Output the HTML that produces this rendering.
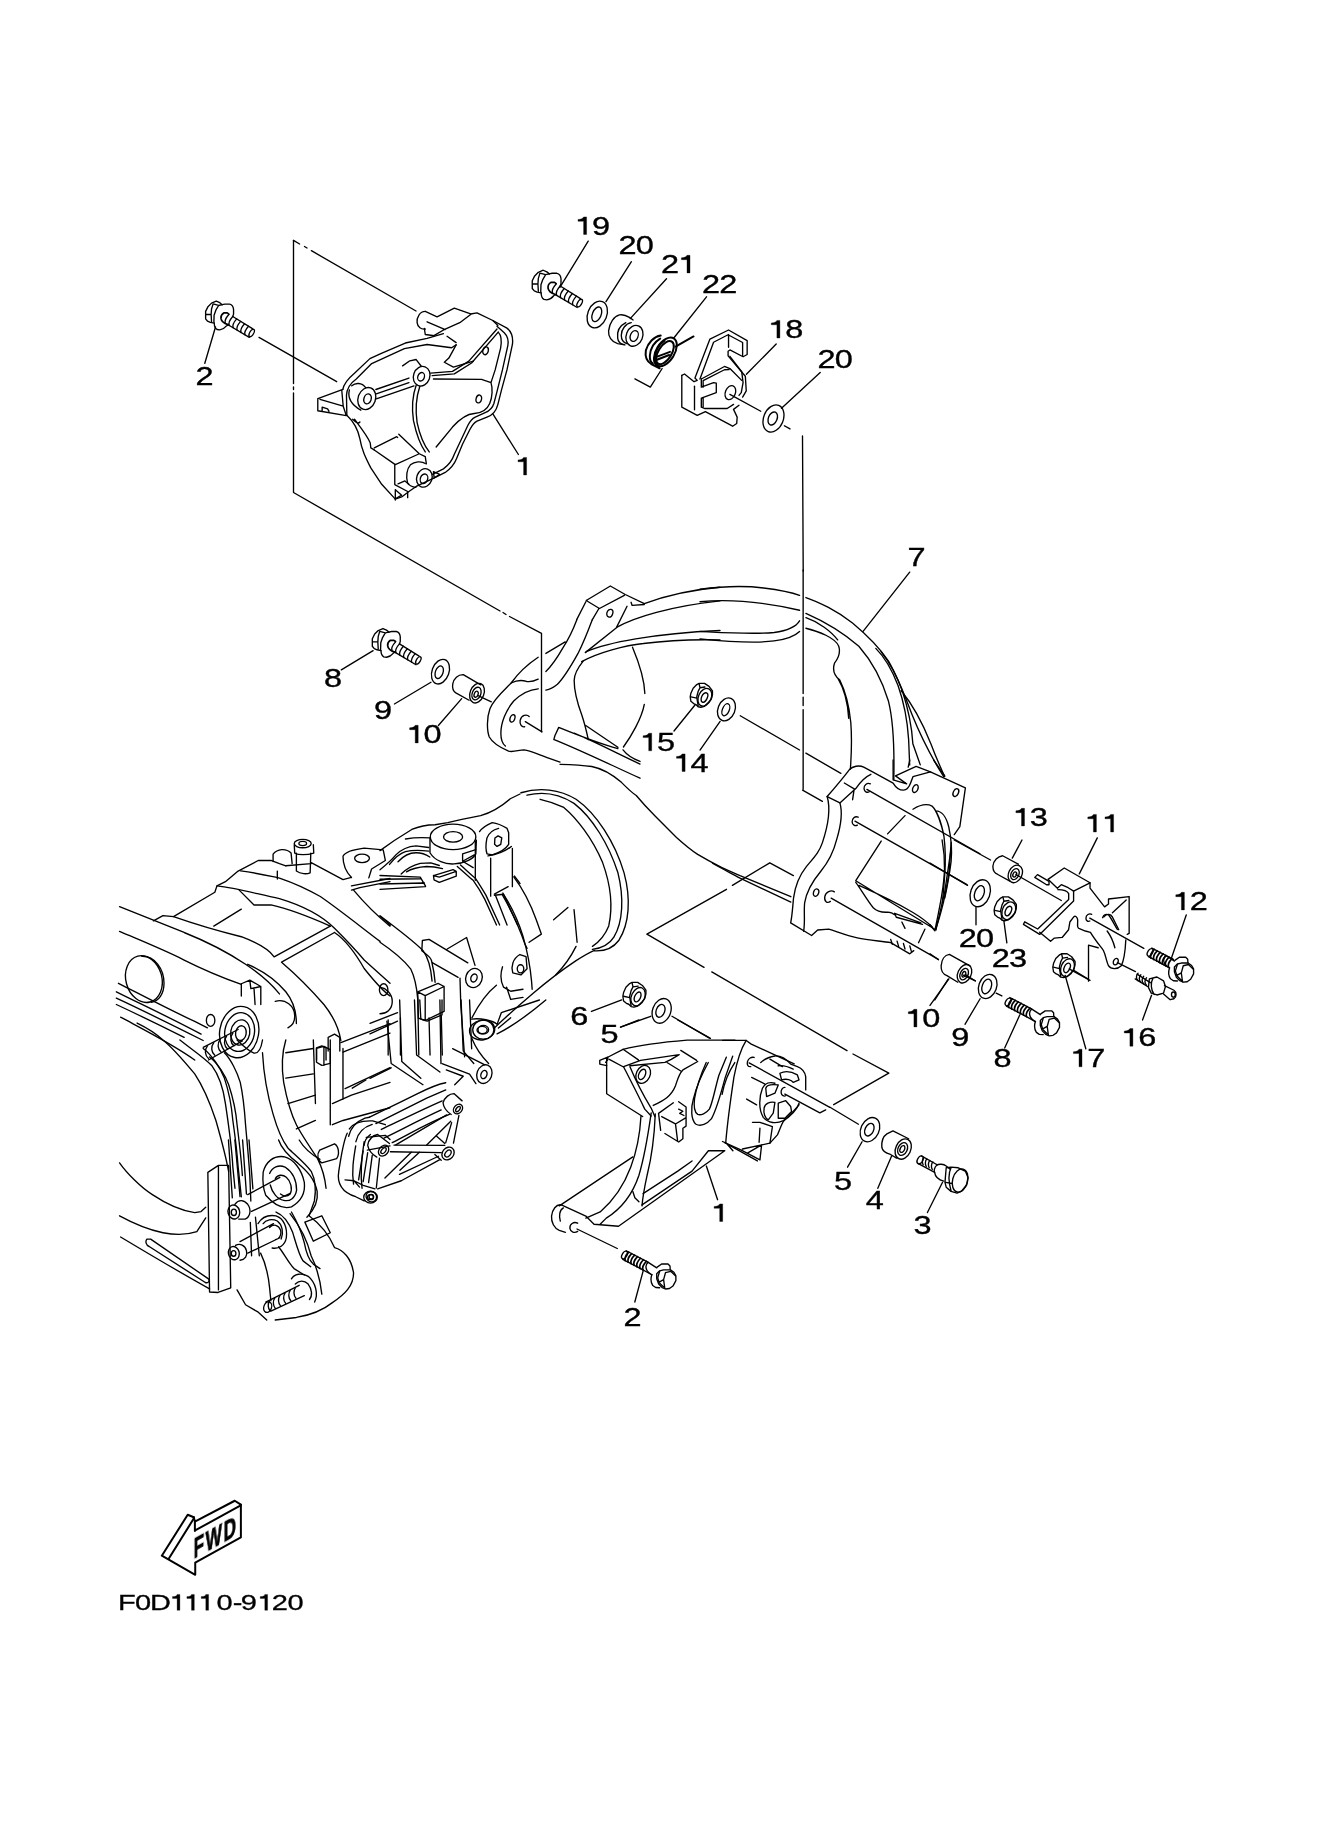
<!DOCTYPE html>
<html><head><meta charset="utf-8"><style>
html,body{margin:0;padding:0;background:#fff;width:1322px;height:1826px;overflow:hidden}
svg{position:absolute;left:0;top:0;display:block}
text{font-family:"Liberation Sans",sans-serif}
.d path,.d polyline,.d line,.d ellipse,.d circle,.d polygon,.d rect{vector-effect:non-scaling-stroke}
</style></head><body>
<svg width="1322" height="1826" viewBox="0 0 1322 1826">
<rect width="1322" height="1826" fill="#fff"/>
<g class="d" fill="none" stroke="#000" stroke-width="1.35" stroke-linejoin="round" stroke-linecap="round">
<defs>
<g id="bolt">
<path d="M530,180 L470,130 L380,90 L260,140 L170,230 L110,350 L110,540 L160,600 L230,630 L330,650"/>
<path d="M300,160 L440,200 L530,180 M300,160 L260,290 L250,430 L260,610 M440,200 L370,320 L325,450 L320,630 M120,430 L250,430"/>
<path d="M530,180 L600,165 L720,165 C780,180 815,240 820,300 L820,420 L800,480 M330,650 C330,700 350,780 400,810 L470,820 C540,810 600,770 640,720 L680,690"/>
<path stroke-width="1.7" d="M700,420 L660,390 L570,390 C520,420 495,480 500,530 C510,600 560,650 680,688"/>
<path d="M800,480 L1300,790 M680,690 L1220,1010"/>
<ellipse cx="1280" cy="900" rx="50" ry="105" transform="rotate(30 1280 900)"/>
<path d="M700,430 C655,480 580,568 610,648 M800,480 C755,530 680,628 710,708 M900,542 C855,592 780,687 810,767 M1000,604 C955,654 880,746 910,826 M1100,666 C1055,716 980,806 1010,886 M1200,728 C1155,778 1080,865 1110,945"/>
</g>
<g id="boltr_thread">
<ellipse cx="165" cy="140" rx="48" ry="85" transform="rotate(30 165 140)"/>
<path d="M200,52 L640,282 M130,228 L500,420"/>
<path stroke-width="1.7" d="M250,78 C210,118 155,184 180,254 M310,110 C270,150 215,215 240,285 M370,141 C330,181 275,246 300,316 M430,172 C390,212 335,277 360,347 M490,204 C450,244 395,309 420,379 M550,235 C510,275 455,340 480,410 M610,266 C570,306 515,371 540,441"/>
</g>
<g id="boltr_head">
<path d="M640,282 L820,400 M500,420 L720,540"/>
<path d="M640,290 C600,330 595,400 620,450 C640,490 680,520 720,540"/>
<path d="M830,385 L920,322 L1050,322 L1090,362 L1095,440 M720,540 C700,600 700,700 740,760 L800,800 L880,805"/>
<path d="M820,520 L880,460 L960,440 L1100,440 L1170,490 L1210,560 L1210,660 L1150,770 L1080,820 L1000,830 L930,800 L860,730 L820,620 Z"/>
<path d="M1000,495 L1105,470 L1200,560 M1000,495 L960,640 L985,820 M880,470 L840,600 L870,700 L960,790 M960,640 L870,690"/>
</g>
<g id="boltr"><use href="#boltr_thread"/><use href="#boltr_head"/></g>

<g id="nut">
<path d="M420,185 L540,185 L640,250 L715,350 L715,430 L690,530 L630,600 L540,690 L460,710 L400,700 L350,650 L300,630 L240,580 L225,480 L240,400 L290,290 L370,210 Z"/>
<path d="M420,190 L440,280 L400,360 L370,480 L380,560 L400,680 M240,480 L370,510 M440,280 L550,265"/>
<ellipse cx="548" cy="490" rx="140" ry="205" transform="rotate(25 548 490)"/>
<ellipse cx="538" cy="495" rx="62" ry="112" transform="rotate(25 538 495)"/>
</g>
</defs>

<g transform="translate(300,290) scale(0.18155)">
<path d="M98,598 L225,552 L236,548 M98,598 L98,665 L255,692 M122,645 L122,665 M122,645 L152,655 L160,668 M230,552 L238,640 L255,692 M110,602 L238,640"/>
<path d="M236,548 C240,520 262,490 300,458 L385,378 L445,350 L580,292 L700,266 L790,240"/>
<path d="M258,690 L256,580 C258,540 275,515 310,490 L395,405 L575,323 L700,300 L835,318 L860,302"/>
<path d="M810,255 L860,290 M860,302 L820,375 L795,398 L845,425 L955,392"/>
<path d="M720,458 L840,448 L930,392 L1085,215 M728,472 L850,462 L945,402 L1092,232"/>
<path d="M690,118 L755,148 L850,100 L940,132 L975,126 L1062,168 L1090,195"/>
<path d="M940,135 L880,180 L800,215 L740,250 M700,175 L800,218 M685,212 L690,245 L740,252"/>
<path d="M690,118 C660,118 642,150 645,180 C648,205 668,218 690,215"/>
<path d="M1062,168 L1140,210 C1165,230 1175,260 1170,300 L1140,440 L1110,550 L1090,630 C1080,670 1060,690 1030,700 L975,722 C955,732 945,750 935,770 L895,850 L862,930 C850,960 830,985 800,1005 L740,1035 L640,1082 L600,1110 L560,1140 L525,1152"/>
<path d="M1085,200 L1125,235 C1145,255 1150,275 1145,305 L1115,440 L1085,560 L1068,625 C1060,650 1045,665 1020,675 L965,700 C945,710 935,725 925,745 L885,830 L850,905 C840,935 825,960 790,985 L730,1015"/>
<path d="M1092,232 C1110,250 1112,280 1105,320 L1075,440 L1052,510 L1000,492 L735,490 M1052,510 C1062,540 1060,590 1045,625 C1030,660 1000,678 960,680 C920,682 880,710 840,755 L750,865"/>
<path d="M640,525 C620,580 615,650 625,720 C640,790 660,850 690,892 M660,530 C640,590 635,660 645,730 C660,800 680,850 712,892"/>
<ellipse cx="1022" cy="335" rx="15" ry="22" transform="rotate(15 1022 335)"/>
<ellipse cx="985" cy="600" rx="15" ry="22" transform="rotate(15 985 600)"/>
<ellipse cx="368" cy="598" rx="48" ry="62" transform="rotate(20 368 598)"/>
<ellipse cx="372" cy="600" rx="20" ry="28" transform="rotate(20 372 600)"/>
<path d="M285,528 C305,510 340,508 362,538 M272,550 C262,590 280,630 335,662"/>
<ellipse cx="670" cy="475" rx="45" ry="55" transform="rotate(20 670 475)"/>
<ellipse cx="667" cy="478" rx="18" ry="24" transform="rotate(20 667 478)"/>
<path d="M565,418 L605,390 L640,383 L668,420"/>
<path d="M418,548 L600,485 M420,572 L600,510 M420,600 L628,528"/>
<ellipse cx="685" cy="1035" rx="42" ry="52" transform="rotate(20 685 1035)"/>
<ellipse cx="683" cy="1040" rx="20" ry="27" transform="rotate(20 683 1040)"/>
<path d="M690,956 C670,940 630,945 608,963 C588,985 582,1030 593,1065 C605,1080 620,1085 638,1087"/>
<path d="M409,870 L533,808 L538,812 M544,795 L657,902 L690,918 L696,958 M409,881 L525,962 L657,902 M522,964 L522,1072 L593,1110 L593,1144 M525,1100 L525,1157 M525,1100 L560,1130 L525,1150 M735,1001 L769,1016 L739,1035 Z M540,1068 L578,1052 L600,1070"/>

<path d="M258,690 C290,720 320,770 330,820 C340,880 360,920 390,980 L450,1070 L525,1152"/>
<path d="M290,712 C310,730 320,740 330,727 M300,712 C320,740 370,800 387,843 L390,870 L409,881"/>
</g>

<path d="M293.5,240.4 L293.5,383.5 M293.5,387 L293.5,389.5 M293.5,393 L293.5,492.5 L500,611 M503,612.5 L506,614.5 M509.5,616.5 L541.5,633.3 L541.5,731.7"/>
<path d="M293.5,240.4 L299.6,244 M304.5,246.5 L307,248 M311.4,250.7 L416,311"/>
<path d="M259,337.4 L336.7,381.7"/>
<path d="M215.5,327 L204.8,363.3 M493,414.2 L518.4,454.5"/>
<use href="#bolt" transform="translate(201.3,297.6) scale(0.03934)"/>
<path d="M802.5,436 L803.2,571"/>

<use href="#bolt" transform="translate(527.8,266.6) scale(0.0405)"/>
<path d="M588.2,241.2 L559.9,287.4 M631.4,261.7 L606,301.7 M666.5,278.7 L630.2,318.6 M706.5,296.8 L673.8,338 M776.2,344 L746.4,374.3 M820.2,372.4 L781.5,408.2"/>
<g transform="translate(575,280) scale(0.09077)">
<ellipse cx="245" cy="380" rx="105" ry="152" transform="rotate(22 245 380)"/>
<ellipse cx="240" cy="378" rx="48" ry="85" transform="rotate(22 240 378)"/>
<path d="M640,440 L600,412 C560,388 520,378 490,385 C430,400 380,470 370,560 C365,620 400,680 470,700 L550,715"/>
<ellipse cx="655" cy="615" rx="90" ry="118" transform="rotate(22 655 615)"/>
<ellipse cx="652" cy="617" rx="42" ry="62" transform="rotate(22 652 617)"/>
<path d="M560,470 C500,500 460,560 470,640 C475,680 500,705 540,712 M620,470 C560,480 510,540 510,610 C510,660 530,690 570,700"/>
<path d="M960,975 L830,1180 L660,1090"/>
</g>
<g transform="translate(630,310) scale(0.05295)" stroke-width="2">
<path d="M580,482 C450,500 340,620 300,760 C280,880 320,970 400,1020 L560,1100"/>
<path d="M570,540 C450,610 385,740 375,860 C372,930 390,990 430,1010"/>
<path d="M650,580 C540,660 480,780 470,900 C468,960 485,1000 520,1020"/>
<ellipse cx="668" cy="790" rx="172" ry="300" transform="rotate(32 668 790)"/>
<ellipse cx="660" cy="805" rx="125" ry="245" transform="rotate(32 660 805)"/>
<path d="M490,890 L755,790 M485,950 L740,850"/>
<path d="M860,690 L1200,500"/>
</g>
<g></g>
<g transform="translate(670,320) scale(0.09077)">
<path d="M130,610 L130,960 L300,1050 L390,1010 L690,1170 L735,1140 L740,1070 L700,985 L760,940"/>
<path d="M130,610 L160,595 L265,680 L300,665 L275,640 L440,210 L645,110 L850,228 L850,380 L805,405 L660,330 L640,345 L640,395 L830,620 L840,780 L800,850"/>
<path d="M330,650 L480,245 L645,160 L645,300 M645,165 L800,248 L800,400 M660,400 L790,570 L805,690 L785,800 L760,830"/>
<path d="M345,650 L600,512 L660,535 L790,665 M365,668 L600,548 L650,545 M345,650 L345,740 L480,690 L510,695 L510,800 L480,810 L345,860 L345,960 L380,975 L630,975 L700,930 M365,668 L365,740 M365,860 L365,960"/>
<path d="M270,730 L270,990"/>
<ellipse cx="665" cy="800" rx="55" ry="80" transform="rotate(22 665 800)"/>
<path d="M660,820 L1000,1005"/>
<ellipse cx="1140" cy="1085" rx="108" ry="155" transform="rotate(22 1140 1085)"/>
<ellipse cx="1132" cy="1085" rx="48" ry="75" transform="rotate(22 1132 1085)"/>
<path d="M1260,1165 L1322,1200"/>
</g>

<g transform="translate(480,570) scale(0.18155)">
<path d="M585,168 L718,88 L800,135 L905,185 M795,140 L658,212 L585,168 M583,175 L532,275 M655,212 L618,275"/>
<ellipse cx="715" cy="238" rx="16" ry="22" transform="rotate(20 715 238)"/>
<path d="M810,200 L750,320 L580,455 M832,178 L838,195 L905,190"/>
<path d="M905,185 C1000,150 1150,110 1322,95 M755,315 C850,260 1050,200 1322,170 M585,450 C700,400 950,350 1322,333 M560,505 C650,455 800,415 900,405 C1050,385 1200,382 1322,385"/>
<path d="M840,425 C880,520 905,600 908,680 M905,740 C890,820 830,920 790,975"/>
</g>
<g transform="translate(470,620) scale(0.1286)">
<path d="M830,0 C800,80 760,160 720,220 C680,290 640,350 590,400 M590,260 L740,170 M950,0 C920,80 880,180 840,260 C790,350 730,450 680,500 C650,525 620,540 590,545"/>
<path d="M880,320 C840,370 810,420 810,470 C810,560 840,660 870,740 C890,800 905,860 920,930"/>
<path d="M530,290 C440,350 370,420 320,490 C250,560 180,620 155,690 C130,760 130,860 150,910 C175,955 230,990 300,1020 C340,1030 380,1010 420,1010 C470,1015 520,1040 600,1070 L700,1105"/>
<path d="M530,535 C470,540 400,570 340,630 C280,700 240,800 240,880 C240,930 250,960 275,980 M320,490 C350,475 400,465 440,478 C480,485 510,470 530,460"/>
<path d="M690,835 L660,900 L652,930 M690,835 C850,900 1000,960 1150,1000 M655,930 C900,1030 1100,1130 1322,1230 M810,880 C1000,960 1150,1040 1322,1120 M900,820 L1150,990 M1190,1010 C1220,1050 1270,1080 1322,1100"/>
<ellipse cx="330" cy="765" rx="18" ry="30" transform="rotate(20 330 765)"/>
<path d="M460,750 C440,730 400,740 390,780 C385,810 400,835 425,830 M430,790 L560,870"/>
</g>
<g transform="translate(700,570) scale(0.2118)">
<path d="M0,90 C100,78 200,72 300,85 C380,95 430,105 470,120 M500,130 C560,150 650,195 720,250 C780,300 850,370 890,430 C930,500 970,600 1000,680 C1040,780 1090,880 1150,975"/>
<path d="M0,150 C100,140 250,140 470,190 M500,205 C580,240 680,300 750,360 C820,440 860,520 890,620 C910,700 918,850 915,990"/>
<path d="M0,290 C100,295 250,305 350,295 C420,285 455,265 470,240 M0,325 C100,335 250,348 350,335 C420,325 455,305 470,290"/>
<path d="M500,225 C560,245 620,290 650,330 M500,275 C560,290 640,320 655,360 C665,390 650,420 635,440 C625,470 630,495 660,520 C690,580 705,650 712,720 C718,800 715,870 710,940 M650,510 C680,560 698,630 702,700"/>
<path d="M830,370 C870,410 910,480 935,545 C965,630 980,720 985,800 L990,920 M855,385 C890,430 930,500 955,570 C985,660 1000,740 1005,820 L1040,920 M950,570 C1000,630 1050,720 1090,820 C1120,900 1140,940 1155,975"/>
<ellipse cx="125" cy="658" rx="40" ry="56" transform="rotate(22 125 658)"/>
<ellipse cx="122" cy="660" rx="16" ry="30" transform="rotate(22 122 660)"/>
<path d="M190,688 L470,850 M500,865 L665,960 M95,715 L0,850 M990,10 L770,290"/>
<path d="M487,0 L487,583 M487,600 L487,640 M487,660 L487,1035"/>
</g>
<g transform="translate(770,760) scale(0.15885)">
<path d="M205,190 L330,260"/>
<path d="M360,230 C420,160 470,100 500,60 C520,40 560,30 590,45 L640,72 L775,145 C790,170 815,190 840,190 C865,188 878,165 885,145 L900,105 L1010,75 L1230,175 L1195,420 L1160,470 M1140,560 L1100,830 L1045,1068"/>
<path d="M360,230 C380,300 370,400 330,520 C310,580 280,610 230,670 C190,720 160,780 148,870 C142,930 140,980 130,1025 L262,1105 L300,1070 L370,1065 C420,1080 480,1105 550,1120 C620,1135 700,1140 760,1150 L880,1220 L905,1200"/>
<path d="M360,230 L440,270 C455,320 450,400 420,500 C400,580 370,640 320,700 C270,760 230,820 218,900 C212,960 222,1010 212,1078"/>
<path d="M440,270 L540,180 C560,150 590,110 635,90 M468,145 L530,182 M530,182 L520,250"/>
<path d="M790,100 L920,40 L1010,75 M790,100 L860,150 M775,0 L775,125 L860,150 M880,0 L870,45 M1030,0 L1100,100"/>
<path d="M632,150 C610,140 590,160 592,180 C594,200 610,208 625,200"/>
<path d="M555,360 C535,350 515,370 517,390 C519,410 535,418 550,410"/>
<path d="M405,830 C385,815 350,830 345,860 C340,890 360,905 380,890"/>
<ellipse cx="290" cy="835" rx="16" ry="24" transform="rotate(20 290 835)"/>
<ellipse cx="915" cy="180" rx="16" ry="26" transform="rotate(25 915 180)"/>
<ellipse cx="1170" cy="205" rx="16" ry="26" transform="rotate(25 1170 205)"/>
<path d="M610,185 L1322,590 M535,385 L1240,785 M385,870 L1060,1255"/>
<path d="M850,350 L740,465 M700,510 L540,760 L1045,1070 M540,770 C570,810 610,880 650,930 C670,950 700,960 740,958 C760,958 775,965 785,975 M560,790 C650,830 780,890 900,960 C950,990 990,1020 1020,1050 M785,965 L950,1025 M785,965 L795,990 L960,1035"/>
<path d="M900,310 C940,285 980,270 1020,290 C1050,320 1080,400 1095,480 C1105,560 1105,650 1100,720 C1095,800 1090,850 1085,900 M1045,320 C1080,320 1110,360 1125,420 C1140,490 1148,560 1140,640 C1130,720 1115,800 1100,870"/>
<path d="M760,1130 L770,1160 M800,1140 L810,1175 M840,1155 L850,1190 M880,1170 L890,1205 M830,1020 L850,1060 M975,1065 L935,1150"/>
</g>

<g transform="translate(560,740) scale(0.2118)">
<path d="M0,115 C40,116 100,118 150,125 C200,135 250,165 290,200 C320,230 340,250 360,262 C400,310 430,340 450,360 C490,400 520,430 550,460 C600,505 620,520 650,540 C700,570 730,585 760,600 C800,620 830,630 850,640 L1090,740"/>
<path d="M720,582 C760,605 800,625 850,652 L1090,765"/>
</g>

<use href="#nut" transform="translate(680,675) scale(0.04539)"/>
<path d="M695,705 L674,731 M1097.3,837.9 L1079.3,873.9 M1065.2,975.5 L1085.8,1048.8"/>
<g transform="translate(930,840) scale(0.12103)">
<path d="M600,130 C560,135 525,170 520,215 C518,250 535,275 560,285 L660,340 M600,130 L730,200"/>
<ellipse cx="705" cy="280" rx="55" ry="76" transform="rotate(25 705 280)"/>
<ellipse cx="702" cy="282" rx="32" ry="48" transform="rotate(25 702 282)"/>
<ellipse cx="700" cy="285" rx="14" ry="22" transform="rotate(25 700 285)"/>
<path d="M710,285 L1085,500 M0,190 L310,375 M200,0 L500,165 M680,150 L760,0"/>
<ellipse cx="415" cy="440" rx="80" ry="115" transform="rotate(20 415 440)"/>
<ellipse cx="408" cy="440" rx="38" ry="65" transform="rotate(20 408 440)"/>
<path d="M380,550 L380,700 M610,665 L635,850"/>
<path d="M160,945 C120,950 95,990 92,1040 C90,1080 110,1110 140,1120 L230,1175 M160,945 L330,1040"/>
<ellipse cx="285" cy="1105" rx="55" ry="80" transform="rotate(25 285 1105)"/>
<ellipse cx="282" cy="1108" rx="32" ry="50" transform="rotate(25 282 1108)"/>
<ellipse cx="280" cy="1110" rx="14" ry="24" transform="rotate(25 280 1110)"/>
<path d="M290,1110 L375,1165 M150,1150 L40,1322 M0,940 L70,990"/>
<path d="M1150,1065 L1322,1160"/>
<path d="M100,0 C115,80 122,160 120,250 C115,350 100,450 80,550 C65,630 50,700 40,750 M175,20 C168,100 165,170 160,240 C150,340 130,430 110,520 C90,600 70,680 45,740 M0,700 L40,750"/>
</g>
<use href="#nut" transform="translate(983.9,888.5) scale(0.04539)"/>
<use href="#nut" transform="translate(1042.6,945.4) scale(0.04539)"/>
<g transform="translate(1030,850) scale(0.1286)">
<path d="M75,640 L160,710 L190,685 L250,680 L300,620 L310,560 L340,520 C350,510 365,515 370,540 C375,570 360,600 380,610 L430,630 L470,640 C500,690 540,740 570,780 C590,820 595,870 610,900 C630,930 680,930 710,900 C730,860 740,800 745,700"/>
<path d="M455,740 L455,1020 M455,740 L530,760 M340,935 L455,1005"/>
<path d="M575,520 C600,490 630,500 640,520 L690,620 M600,630 C630,670 650,720 660,760"/>
<path d="M480,500 C460,490 435,505 435,530 C435,550 450,560 465,552"/>
<ellipse cx="667" cy="868" rx="18" ry="26" transform="rotate(25 667 868)"/>
<path d="M465,530 L885,765 M680,875 L820,945 M1215,505 L1100,840 M945,1130 L875,1322"/>
</g>
<use href="#boltr_head" transform="translate(1134.1,941.4) scale(0.04916)"/><use href="#boltr_thread" transform="translate(1142,945.5) scale(0.04916)"/>
<use href="#boltr" transform="translate(1000,995) scale(0.04916)"/>
<g transform="translate(930,960) scale(0.1891)">
<ellipse cx="305" cy="140" rx="47" ry="66" transform="rotate(20 305 140)"/>
<ellipse cx="300" cy="140" rx="24" ry="40" transform="rotate(20 300 140)"/>
<path d="M265,205 L185,340 M350,175 L380,190 M175,80 L240,110 M475,290 L395,465 M100,100 L0,240"/>
<path d="M1095,75 L1165,120 M1085,100 L1150,140"/>
<path d="M1100,70 C1090,80 1088,100 1100,110 M1115,78 C1105,88 1103,108 1115,118 M1130,86 C1120,96 1118,116 1130,126 M1145,94 C1135,104 1133,124 1145,134"/>
<path d="M1160,100 L1200,90 L1235,110 L1245,140 L1235,175 L1200,185 L1170,175 L1155,145 Z M1180,95 C1165,120 1168,160 1185,182"/>
<path d="M1240,135 L1290,160 C1305,170 1305,195 1290,205 L1270,210 L1235,180"/>
<ellipse cx="1287" cy="183" rx="10" ry="14"/>
</g>
<g transform="translate(1020,840) scale(0.09834)">
<path d="M150,380 L178,352 L295,420 L295,455 M150,380 L270,455 L295,455"/>
<path d="M285,400 L450,285 L712,435 L545,520 M285,400 L380,490 L420,455 L490,485 L545,520"/>
<path d="M712,435 L712,490 L860,680 L900,650 L900,600 L1110,575 L1110,950 L1090,960"/>
<path d="M545,520 L545,620 L200,960 L35,858 L48,832 L180,905 L495,605 L495,545 C480,515 440,505 385,505"/>
<path d="M940,740 L1080,610 M840,790 C850,760 880,750 900,760 C930,800 960,860 990,910"/>
</g>

<g transform="translate(545,1020) scale(0.20424)">
<path d="M470,470 C465,560 450,640 420,720 C390,800 340,880 270,940 L200,970"/>
<path d="M520,455 C505,560 490,660 460,760 C430,850 380,920 300,970 L270,1000"/>
<path d="M540,460 C535,580 520,680 500,760 C485,830 478,870 475,910"/>
<path d="M430,670 L70,910 M80,905 L200,960 L240,1000 L360,1010 L880,640 M475,905 L720,740 L800,640 L880,640 M480,850 L650,740 L720,690 M430,840 L440,870 L460,890"/>
<path d="M870,100 L985,100 L1010,118 L1220,215"/>
<path d="M985,100 C960,140 940,200 925,280 C910,380 895,480 885,600 L920,640 M880,600 L1040,690"/>
<path d="M80,905 C55,900 35,930 32,960 C30,990 45,1020 70,1030 L100,1040 M90,920 C70,930 68,960 75,985"/>
<path d="M160,995 C140,985 120,1000 122,1020 C125,1040 145,1045 160,1035"/>
<path d="M790,715 L845,880 M650,0 L810,90 M370,35 L460,0"/>
</g>
<g transform="translate(595,1035) scale(0.1059)">
<path d="M120,210 L265,135 C400,100 600,70 870,48 L1322,48"/>
<path d="M45,240 L120,210 L122,232 L100,258 M45,240 L45,275 L110,290"/>
<path d="M110,230 L110,555 L450,770"/>
<path d="M135,230 L265,300 M265,135 L410,235 M270,298 L430,240 L795,185 M330,290 L660,258 L720,230 L795,185"/>
<ellipse cx="455" cy="372" rx="65" ry="88" transform="rotate(25 455 372)"/>
<ellipse cx="445" cy="372" rx="30" ry="52" transform="rotate(25 445 372)"/>
<path d="M270,300 C320,400 400,550 470,700 L530,765 M330,300 C380,420 450,560 530,690 L565,770"/>
<path d="M550,665 C650,620 720,580 760,480 C780,420 790,370 830,330 L970,250 M680,260 L810,340 M810,145 L960,240"/>
<path d="M600,740 L740,640 M790,630 L860,680 L860,860 L830,880 L830,980 L790,1010 L660,930 M630,770 L760,840 L860,780 M760,840 L780,1000 M790,700 L830,720 L800,740 L840,760 M600,740 L620,900"/>
<path d="M1070,260 C1020,350 960,480 930,600 C900,700 910,800 950,840 C1000,870 1060,840 1100,790 C1150,700 1190,550 1230,400 L1300,200"/>
<path d="M1050,260 C1010,350 960,480 940,600 C930,680 940,730 970,750 C1000,760 1050,740 1080,700 C1110,640 1130,520 1170,380 L1240,210"/>
<path d="M1320,260 C1260,350 1220,450 1200,560"/>
</g>
<g transform="translate(720,1030) scale(0.08321)">
<path d="M490,390 C530,355 600,320 660,312 C720,308 780,330 850,410 M850,410 L930,440 C980,460 1020,500 1030,560 L1030,720 M950,900 C900,960 820,1040 760,1100 C730,1150 720,1200 690,1260 L600,1360"/>
<path d="M510,700 C470,800 460,950 520,1050 C580,1120 680,1130 760,1090 C850,1040 930,950 950,880 M510,700 C540,640 600,620 660,640 M700,430 C760,420 820,440 880,470"/>
<path d="M550,700 C560,660 620,650 700,660 L660,760 L560,800 Z M530,940 C540,880 600,860 660,870 L640,1000 L580,1080 C540,1060 520,1000 530,940 Z M700,880 L790,850 L850,920 L860,980 L780,1060 L700,1060 Z M720,520 C780,490 860,500 930,540 L950,600 L880,630 C860,600 800,580 740,600 Z"/>
<path d="M780,690 C750,690 730,720 735,755 C740,790 770,800 790,790"/>
<path d="M350,395 L1320,930 M780,770 L1200,995 L1270,960"/>
<path d="M410,330 C380,320 340,340 330,380 C320,420 340,445 370,440"/>
<path d="M600,350 L750,440 M380,570 L540,650 M320,830 L440,900"/>
<path d="M390,1110 L480,1110 L630,1160 L600,1360 M480,1180 L470,1350 M30,1340 L250,1440 L480,1560 M270,1430 L600,1360 M330,1480 L500,1380 L480,1560"/>
</g>

<use href="#nut" transform="translate(612.3,973.7) scale(0.047)"/>
<g transform="translate(560,960) scale(0.12103)">
<ellipse cx="840" cy="420" rx="75" ry="105" transform="rotate(20 840 420)"/>
<ellipse cx="830" cy="420" rx="35" ry="55" transform="rotate(20 830 420)"/>
<path d="M510,330 L260,425 M750,465 L500,555 M925,465 L1235,645"/>
</g>
<path d="M646.9,934.2 L726.5,889.3 M732.4,885.4 L769.8,862.8 L793.4,875.6 M646.9,934.2 L704,967.3 M711.8,971.9 L847,1050.6 M853,1054 L888.8,1073.2 L833.7,1104.7" stroke-dasharray="none"/>
<g transform="translate(830,1100) scale(0.12103)">
<ellipse cx="330" cy="245" rx="75" ry="105" transform="rotate(25 330 245)"/>
<ellipse cx="325" cy="245" rx="35" ry="55" transform="rotate(25 325 245)"/>
<path d="M0,60 L235,200 M265,345 L145,555"/>
<path d="M520,255 L470,280 C440,300 425,340 428,390 C432,420 460,440 500,450 L550,480 M520,255 L650,320"/>
<ellipse cx="605" cy="405" rx="62" ry="88" transform="rotate(25 605 405)"/>
<ellipse cx="600" cy="405" rx="38" ry="55" transform="rotate(25 600 405)"/>
<ellipse cx="598" cy="405" rx="18" ry="30" transform="rotate(25 598 405)"/>
<path d="M510,460 L395,730"/>
<ellipse cx="745" cy="495" rx="22" ry="35" transform="rotate(30 745 495)"/>
<path d="M755,462 L885,535 M730,525 L865,598"/>
<path d="M775,475 C760,490 760,520 770,535 M800,488 C785,503 785,533 795,548 M825,500 C810,515 810,545 820,560 M850,513 C835,528 835,558 845,573"/>
<path d="M880,540 C900,525 940,530 960,545 L990,570 M865,600 C870,640 900,660 940,670 M880,540 C860,560 858,590 865,600"/>
<path d="M960,560 L1000,555 L1060,560 L1120,590 L1140,640 L1130,700 L1090,750 L1050,770 L1000,755 L960,720 L950,680 L955,620 Z"/>
<ellipse cx="1075" cy="665" rx="62" ry="98" transform="rotate(15 1075 665)"/>
<path d="M1000,560 C980,600 975,660 1000,750 M955,680 L1010,690"/>
<path d="M930,680 L805,930"/>
</g>
<use href="#boltr" transform="translate(616.4,1248.2) scale(0.04916)"/>
<path d="M643.3,1270.3 L634.8,1302 M577,1229 L617.3,1248.5"/>

<use href="#bolt" transform="translate(368,625) scale(0.03934)"/>
<path d="M341.3,669.8 L373.1,650.7"/>
<g transform="translate(360,615) scale(0.1059)">
<ellipse cx="760" cy="535" rx="80" ry="120" transform="rotate(20 760 535)"/>
<ellipse cx="748" cy="540" rx="36" ry="62" transform="rotate(20 748 540)"/>
<path d="M670,635 L325,840"/>
<path d="M975,563 C925,562 885,600 876,650 C870,690 880,720 905,735 L1030,805 M975,563 L1140,660"/>
<ellipse cx="1105" cy="738" rx="65" ry="96" transform="rotate(22 1105 738)"/>
<ellipse cx="1100" cy="742" rx="40" ry="62" transform="rotate(22 1100 742)"/>
<ellipse cx="1097" cy="748" rx="18" ry="30" transform="rotate(22 1097 748)"/>
<path d="M1110,760 L1240,820 M960,790 L740,1044"/>
</g>

<g transform="translate(380,785) scale(0.20424)">
<path d="M690,38 C780,10 880,20 960,70 C1060,140 1150,280 1195,430 C1230,560 1220,680 1170,760 C1140,800 1100,815 1050,812"/>
<path d="M720,50 C800,30 880,45 950,90 C1040,160 1120,290 1165,430 C1195,550 1190,670 1145,745 C1120,785 1080,800 1040,805"/>
<path d="M784,70 C830,80 870,95 900,110 C960,160 1040,260 1090,380 C1130,490 1140,600 1120,690 C1100,740 1070,770 1040,790"/>
<path d="M560,1190 C600,1150 680,1080 750,1020 C820,960 900,900 960,860 C1000,835 1030,818 1050,810"/>
<path d="M560,540 L605,535 C640,590 675,660 700,740 C720,810 735,880 742,960 L745,1000"/>
<path d="M600,540 C640,610 680,690 710,780 L720,800"/>
<path d="M655,450 C700,510 740,590 765,660 L790,730 L730,770 M850,660 L920,600 M950,610 L965,770 M960,790 C930,850 900,890 860,930"/>
<path d="M207.6,761.3 L240,755.5 L429.9,871 M329,803 L424,746.6 L465.1,883.2 M207.6,761.3 L204.6,811.8 C230,830 250,850 252.1,859.2 C262,900 268,940 269.8,966 M258,870.5 L382.4,942"/>
<ellipse cx="460" cy="945" rx="40" ry="48" transform="rotate(20 460 945)"/>
<ellipse cx="460" cy="945" rx="15" ry="20" transform="rotate(20 460 945)"/>

<ellipse cx="500" cy="1200" rx="62" ry="48" transform="rotate(-10 500 1200)"/>
<ellipse cx="500" cy="1200" rx="25" ry="18"/>
<path d="M450,1140 C480,1080 520,1020 570,980 M580,1190 L640,1140 M600,890 C590,920 590,960 605,990 L640,1010 L700,1000 M620,990 L640,1050 L700,1040"/>
<path d="M0,640 C80,700 160,760 210,810 C240,850 250,900 255,960 M0,770 C60,810 110,850 150,900 C170,940 180,990 185,1050 L190,1322"/>
<path d="M100,1140 L100,1322 M40,1150 L40,1322 M240,1140 L245,1322 M300,1130 L305,1322"/>
<path d="M0,990 C30,995 60,1020 60,1060 C60,1100 30,1120 0,1120"/>
<path d="M685,830 C650,850 640,890 650,920 L690,930 L720,900 L715,840 Z"/>
<ellipse cx="688" cy="900" rx="16" ry="20"/>
</g>
<g transform="translate(380,785) scale(0.1059)">
<path d="M0,620 C80,560 200,480 300,420 C380,385 450,375 520,375 L640,355 C750,330 850,310 950,290 C1050,260 1150,200 1230,130 L1322,85"/>
<path d="M240,510 C300,500 400,495 470,500"/>
<ellipse cx="690" cy="490" rx="215" ry="120"/>
<ellipse cx="690" cy="490" rx="90" ry="50"/>
<path d="M472,500 L472,640 C520,720 620,750 700,745 C800,740 880,700 905,650 L910,520"/>
<path d="M780,650 L780,720 L890,660 M780,650 L905,610 M780,720 L880,780"/>
<path d="M940,440 C960,410 1000,380 1060,355 C1100,360 1160,385 1200,410 L1215,450 L1215,560 C1190,600 1120,640 1060,660 L1010,650 C1000,620 1000,550 1010,500 C1030,450 1080,420 1120,410"/>
<path d="M1085,500 L1115,480 L1150,500 L1140,560 L1105,580 L1082,560 Z"/>
<path d="M900,530 L900,900 M1045,690 L1045,1050 M1250,600 L1250,960 M1080,1030 L1210,960 M1020,670 C1080,660 1180,630 1240,580"/>
<path d="M0,800 C50,760 100,720 150,660 C200,610 260,580 340,575 L460,590 M90,750 C130,700 180,650 240,630 C300,615 380,615 460,625 M170,725 C220,670 280,640 340,640 C400,640 440,660 470,680"/>
<path d="M200,840 C250,790 300,760 380,740 L480,735 L560,760 M250,820 C300,790 360,775 440,770 C500,770 550,780 590,790"/>
<path d="M0,855 L380,870 L430,955 M0,890 L380,885 M0,935 L420,925 M0,985 L430,960"/>
<path d="M505,855 L690,800 L720,815 L560,870 Z M505,855 L510,895 L560,920 L720,860 L720,815"/>
<path d="M730,770 C800,830 850,880 880,900 C930,970 960,1020 990,1080 L1100,1322 M760,755 C820,810 860,850 900,880 C940,940 970,990 1000,1040 L1130,1322 M1090,1040 L1200,1322 M1160,1020 L1300,1322 M1270,860 L1322,930 M0,1240 L100,1322"/>
</g>
<path d="M417.7,991.8 L438.1,983.4 L444.1,986.5 L425.2,995.6 Z M417.7,991.8 L418.4,1018.2 L425.2,1020.5 L444.1,1011.4 L444.1,986.5 M425.2,995.6 L425.2,1020.5 M460,978.2 L460.8,1005.4 L464.6,1056.8"/>

<g transform="translate(110,780) scale(0.2118)">
<path d="M45,598 C150,640 250,680 350,720 C450,760 550,810 640,870 C700,910 760,960 800,1010"/>
<path d="M45,715 C150,760 250,800 350,850 C450,900 550,940 620,965"/>
<path d="M205,665 L250,640 L300,645 L495,530 L505,500 L545,480 L605,430 L700,380 L760,380 L800,395 L830,405"/>
<path d="M300,645 C400,680 500,710 620,740 C700,770 750,800 775,835 L1040,690 M490,690 L620,610"/>
<path d="M610,520 L680,590 L760,590 C850,610 950,650 1040,690"/>
<path d="M505,500 C600,510 700,540 800,560 C900,590 1000,640 1060,700 C1100,740 1150,790 1200,850 L1322,960"/>
<path d="M617,429 C700,440 760,455 800,463 C880,490 940,520 993,550 C1080,610 1180,690 1275,762"/>
<path d="M790,430 L790,468 M950,390 L1100,470 L1140,460 M830,405 L950,395"/>
<ellipse cx="910" cy="300" rx="40" ry="20"/>
<ellipse cx="910" cy="300" rx="18" ry="10"/>
<path d="M870,305 L872,345 C890,355 930,355 962,345 L960,305 M880,345 L880,430 C900,445 930,445 945,438 L948,345"/>
<path d="M770,350 C790,325 830,320 855,345 L860,395 M770,350 L770,385"/>
<path d="M1100,360 C1110,340 1140,330 1200,322 L1290,330 L1300,380 L1235,420 L1222,462 M1100,360 C1100,400 1110,430 1140,460"/>
<ellipse cx="1190" cy="370" rx="35" ry="20"/>
<path d="M1140,520 L1180,508 L1322,480 M1140,500 L1322,465 M1150,520 C1200,580 1260,640 1322,690"/>
<path d="M810,860 L1060,720 M810,860 C880,920 950,990 1010,1060 C1050,1110 1080,1170 1090,1230"/>
<path d="M1060,720 C1120,760 1160,820 1200,890 C1240,940 1280,990 1322,1020"/>
<ellipse cx="1292" cy="990" rx="20" ry="28"/>
<path d="M650,870 C720,900 780,940 830,1000 C870,1050 880,1100 880,1150"/>
<path d="M780,1045 C830,1030 870,1070 872,1110 C874,1140 860,1160 840,1170"/>
<ellipse cx="160" cy="940" rx="85" ry="112" transform="rotate(-15 160 940)"/>
<path d="M150,832 C210,830 255,890 255,960 C255,1010 230,1045 195,1050"/>
<ellipse cx="610" cy="1190" rx="92" ry="122" transform="rotate(10 610 1190)"/>
<ellipse cx="612" cy="1190" rx="70" ry="92" transform="rotate(10 612 1190)"/>
<ellipse cx="615" cy="1192" rx="45" ry="60" transform="rotate(10 615 1192)"/>
<ellipse cx="618" cy="1195" rx="25" ry="35" transform="rotate(10 618 1195)"/>
<path d="M440,1262 L605,1178 M465,1322 L625,1232"/>
<path d="M460,1255 C445,1275 448,1300 465,1315 M490,1240 C475,1260 478,1285 495,1300 M520,1225 C505,1245 508,1270 525,1285 M550,1210 C535,1230 538,1255 555,1270 M580,1195 C565,1215 568,1240 585,1255"/>
<ellipse cx="475" cy="1135" rx="20" ry="28"/>
<path d="M620,962 L660,945 L712,975 L712,1060 M620,962 L620,1020 M660,945 L665,985 L712,975 M680,985 L685,1060"/>
<path d="M1030,1215 L1060,1200 L1085,1215 L1085,1280 M1030,1215 L1030,1280 M975,1265 L1000,1255 L1020,1265 L1020,1322 M975,1265 L975,1322"/>
<path d="M1090,1240 L1322,1150 M1100,1285 L1322,1195"/>
<path d="M40,960 C120,1000 250,1070 400,1140 L460,1170 M30,1000 C150,1060 300,1130 430,1200 M30,1030 C160,1090 300,1160 440,1230 M30,1060 C180,1130 300,1190 350,1215 M50,1120 C200,1200 300,1250 400,1322"/>
</g>

<g transform="translate(110,1040) scale(0.2118)">
<path d="M128,-80 C180,-55 220,-28 250,0 C300,40 350,100 400,160 C440,220 480,320 500,380 C520,450 545,540 560,620"/>
<path d="M330,0 C380,40 440,80 480,120 C510,160 535,230 545,300 C560,400 575,500 580,600 L590,700"/>
<path d="M440,40 C480,70 520,130 540,180 C560,240 575,320 580,380 C590,450 600,530 605,600 L620,740"/>
<path d="M470,80 C510,110 545,170 560,210 C580,270 595,340 600,400 C610,480 620,560 625,640"/>
<path d="M540,60 C570,90 600,150 615,200 C628,260 636,340 640,400 C646,470 655,560 660,640 L665,760"/>
<path d="M600,0 C620,20 650,50 680,62 C700,65 712,50 720,0"/>
<path d="M720,60 C725,150 740,250 770,350 C790,420 810,470 840,510 C870,540 920,580 950,620 C970,660 975,700 965,760 L940,830"/>
<path d="M830,0 C815,50 808,120 820,200 C835,280 860,360 880,400 C900,440 940,500 980,560 C1000,600 1015,650 1020,700"/>
<path d="M45,580 C80,630 150,700 200,730 C260,770 330,805 400,815 L430,810 L452,790"/>
<path d="M45,830 C100,860 180,895 250,910 C300,920 360,922 410,905 L452,840"/>
<path d="M50,930 C150,990 300,1080 470,1175"/>
<path d="M175,940 C165,950 170,970 185,975 L450,1145 C465,1150 472,1138 465,1128 L192,940 Z"/>
<path d="M462,625 L512,592 L560,592 M462,625 L470,1190 L510,1192 M512,592 L512,1180 M560,592 L570,1170 L510,1192"/>
<path d="M940,830 C980,860 1030,910 1060,980 C1100,990 1140,1030 1150,1100 C1150,1160 1110,1200 1050,1240 C1000,1280 940,1300 880,1310 L780,1322"/>
<path d="M850,820 C890,870 930,940 950,1020 C970,1060 990,1110 1000,1200"/>
<path d="M600,1180 L640,1250 L700,1285 L740,1322"/>
<path d="M920,860 L1000,830 L1040,910 L960,950 Z"/>
<path d="M1040,0 L1040,400 M960,0 L970,300 M1100,40 L1100,280 M1050,400 L1100,380 L1322,320 M1050,300 L1140,260 L1322,200 M1110,230 L1322,130"/>
<path d="M975,40 L1010,30 L1040,45 L1040,110 L1000,120 L975,105 Z M1010,30 L1010,120"/>
<path d="M830,60 L960,40 M830,180 L960,160 M840,300 L970,260 M880,420 L970,380"/>
<path d="M990,520 L1060,490 C1080,500 1085,540 1070,560 L1000,580 M990,520 C975,540 980,570 1000,580"/>
<path d="M1130,420 C1150,390 1190,380 1240,382 L1300,400 M1120,440 C1100,480 1090,560 1080,620 C1070,680 1100,720 1160,740 L1200,760 M1160,500 C1150,560 1140,620 1150,680 M1200,480 C1190,540 1180,620 1190,700"/>
<ellipse cx="1230" cy="742" rx="32" ry="28"/>
<ellipse cx="1230" cy="742" rx="14" ry="12"/>
<path d="M1210,460 L1300,450 L1322,470 M1215,520 L1322,500"/>
</g>
<g transform="translate(150,1140) scale(0.1286)">
<path d="M880,250 C900,170 960,120 1040,130 C1120,150 1180,230 1200,330 C1210,420 1170,480 1100,520 C1030,540 960,500 900,430 C880,380 875,310 880,250 Z"/>
<path d="M930,260 C950,210 1000,190 1050,210 C1110,250 1140,320 1140,390 C1130,450 1090,480 1040,470 C990,460 950,410 935,350"/>
<path d="M975,300 C990,270 1030,265 1060,290 C1095,320 1110,380 1090,420 C1070,440 1040,440 1015,420"/>
<path d="M760,425 L1010,290 M790,555 L1090,415"/>
<ellipse cx="652" cy="560" rx="45" ry="55" transform="rotate(-15 652 560)"/>
<ellipse cx="652" cy="562" rx="20" ry="25"/>
<path d="M660,500 C690,460 730,465 760,500 C790,540 780,600 740,615 L690,615"/>
<path d="M840,650 C870,600 920,580 980,590 C1040,610 1070,680 1060,760 C1050,820 1000,850 950,840 M880,650 C900,620 950,610 990,630 C1030,660 1040,720 1020,770"/>
<path d="M700,790 L960,650 M760,880 L1010,760 M930,680 C960,650 1000,660 1015,700 C1025,740 1005,770 975,775"/>
<ellipse cx="652" cy="880" rx="42" ry="52" transform="rotate(-15 652 880)"/>
<ellipse cx="650" cy="882" rx="18" ry="22"/>
<path d="M665,820 C700,800 740,820 750,860 C760,900 740,930 700,935"/>
<path d="M1100,1080 C1120,1040 1180,1030 1230,1060 C1290,1110 1310,1200 1280,1260 M1130,1120 C1160,1090 1200,1090 1230,1120 C1260,1160 1265,1210 1240,1240"/>
<path d="M900,1260 L1160,1130 M940,1330 L1200,1210"/>
<path d="M930,1250 C915,1270 915,1310 935,1330 M970,1230 C955,1250 955,1290 975,1310 M1010,1210 C995,1230 995,1270 1015,1290 M1050,1190 C1035,1210 1035,1250 1055,1270 M1090,1170 C1075,1190 1075,1230 1095,1250 M1130,1150 C1115,1170 1115,1210 1135,1230"/>
<ellipse cx="915" cy="1300" rx="30" ry="42" transform="rotate(20 915 1300)"/>
<path d="M1000,830 C1040,880 1080,960 1120,1000 L1200,1050 M860,880 C900,960 920,1050 930,1150 L940,1250"/>
<path d="M1000,0 C1020,60 1060,110 1150,180 C1220,240 1280,300 1300,400 C1310,480 1280,540 1220,600"/>
<path d="M1160,0 C1190,50 1230,100 1322,150"/>
<path d="M1100,560 C1140,630 1180,720 1200,800 C1215,880 1230,930 1270,965 L1322,1000"/>
<path d="M980,560 C1030,580 1080,640 1110,720 C1140,820 1160,900 1190,940 L1250,985"/>
<path d="M820,600 C830,700 840,800 850,900 M780,640 L790,900"/>
<path d="M610,0 L640,450 M660,0 L700,440 M720,0 L750,420 M770,0 L800,380"/>
</g>

<g transform="translate(370,1000) scale(0.2118)">
<path d="M80,100 L100,300 L250,400 M140,0 L150,290 L240,370 M210,0 L220,260 L330,340 M330,0 L335,300 M430,0 L440,240 L490,300 M470,0 L480,230"/>
<ellipse cx="540" cy="350" rx="35" ry="45" transform="rotate(20 540 350)"/>
<ellipse cx="538" cy="352" rx="14" ry="20" transform="rotate(20 538 352)"/>
<path d="M340,300 L470,350 L500,395 M390,230 L470,270 L540,305 M360,330 L440,360 L400,400"/>
<ellipse cx="535" cy="140" rx="50" ry="45"/>
<ellipse cx="535" cy="140" rx="25" ry="20"/>
<path d="M480,90 C520,85 580,95 600,115 L620,60 L800,0 M600,160 C620,150 700,110 830,0 M480,180 C500,230 530,270 560,300"/>
<path d="M0,110 L130,60 M0,160 L130,100 M0,370 L100,320"/>
<path d="M235,0 L240,90 L270,100 L340,70 L340,0"/>
</g>
<g transform="translate(345,1080) scale(0.09077)">
<path d="M80,90 L230,0 M270,410 C400,345 600,250 800,150 C900,100 1000,50 1110,30 M340,480 C500,400 700,300 900,200 L1110,110 M400,545 C600,450 800,350 1070,230 M430,640 C600,560 800,450 1060,330 M520,690 C700,600 900,480 1150,380"/>
<ellipse cx="1245" cy="320" rx="45" ry="58" transform="rotate(40 1245 320)"/>
<ellipse cx="1245" cy="320" rx="18" ry="34" transform="rotate(40 1245 320)"/>
<path d="M1080,250 C1100,190 1150,150 1200,150 L1290,230 M1080,250 C1085,300 1110,340 1170,380"/>
<ellipse cx="1135" cy="810" rx="62" ry="75" transform="rotate(40 1135 810)"/>
<ellipse cx="1135" cy="810" rx="28" ry="44" transform="rotate(40 1135 810)"/>
<path d="M990,820 L1060,885"/>
<ellipse cx="425" cy="778" rx="50" ry="66" transform="rotate(40 425 778)"/>
<ellipse cx="425" cy="778" rx="22" ry="38" transform="rotate(40 425 778)"/>
<path d="M250,720 C260,660 300,610 360,600 L490,700 M250,720 C260,770 300,820 350,850"/>
<path d="M40,620 C60,540 120,460 220,420 L270,410 M120,680 C140,590 200,520 300,490 M210,720 C215,670 240,630 280,600"/>
<path d="M540,718 L1100,720 M500,790 L1060,800"/>
<path d="M560,715 L1120,385 M900,715 L1165,455 M730,795 L440,1080 M820,795 L605,995 M1010,620 L1100,700"/>
<path d="M1255,390 L1195,695 M1175,470 L1110,690"/>
<path d="M600,1040 L1030,840 M620,1110 L1040,880 M360,1200 L620,1110"/>
<path d="M200,780 L150,1100 M250,800 L200,1120 M300,830 L260,1130 M380,860 L345,1190"/>
<ellipse cx="290" cy="1285" rx="60" ry="55" transform="rotate(40 290 1285)"/>
<ellipse cx="290" cy="1285" rx="25" ry="25"/>
<path d="M0,1100 L100,1110 L160,1180 M100,1110 L200,1160 L330,1200"/>
</g>

<g transform="translate(155,1495) scale(0.07186)" stroke-width="2">
<path d="M95,845 L455,275 L540,310 L555,370 L1110,80 L1195,135 L1195,590 L560,940 L560,1110 Z"/>
<path d="M195,880 L535,335 M540,310 L535,335 M565,490 L1180,150 L1195,135 M555,370 L555,500"/>
</g>


</g>
<g font-size="25" fill="#000" stroke="#000" stroke-width="0.35" opacity="0.999"><path d="M578.0,221.3 L578.0,219.4 C581.0,219.4 583.0,218.5 583.6,216.9 L586.6,216.9 L586.6,234.5 L583.6,234.5 L583.6,221.3 Z"/><text transform="translate(591.9,234.5) scale(1.3,1)">9</text><text transform="translate(618.5,253.8) scale(1.3,1)">2</text><text transform="translate(635.7,253.8) scale(1.3,1)">0</text><text transform="translate(660.9,272.9) scale(1.3,1)">2</text><path d="M681.4,259.7 L681.4,257.8 C684.4,257.8 686.4,256.9 687.0,255.3 L690.0,255.3 L690.0,272.9 L687.0,272.9 L687.0,259.7 Z"/><text transform="translate(702.0,293.2) scale(1.3,1)">2</text><text transform="translate(719.2,293.2) scale(1.3,1)">2</text><path d="M771.3,324.8 L771.3,322.9 C774.3,322.9 776.3,322.0 776.9,320.4 L779.9,320.4 L779.9,338.0 L776.9,338.0 L776.9,324.8 Z"/><text transform="translate(785.2,338.0) scale(1.3,1)">8</text><text transform="translate(817.5,368.2) scale(1.3,1)">2</text><text transform="translate(834.7,368.2) scale(1.3,1)">0</text><text transform="translate(195.4,384.9) scale(1.3,1)">2</text><path d="M518.0,461.8 L518.0,459.9 C521.0,459.9 523.0,459.0 523.6,457.4 L526.6,457.4 L526.6,475.0 L523.6,475.0 L523.6,461.8 Z"/><text transform="translate(907.4,565.8) scale(1.3,1)">7</text><text transform="translate(323.9,687.3) scale(1.3,1)">8</text><text transform="translate(374.1,719.0) scale(1.3,1)">9</text><path d="M409.6,729.7 L409.6,727.8 C412.6,727.8 414.6,726.9 415.2,725.3 L418.2,725.3 L418.2,742.9 L415.2,742.9 L415.2,729.7 Z"/><text transform="translate(423.5,742.9) scale(1.3,1)">0</text><path d="M643.1,737.6 L643.1,735.7 C646.1,735.7 648.1,734.8 648.7,733.2 L651.7,733.2 L651.7,750.8 L648.7,750.8 L648.7,737.6 Z"/><text transform="translate(657.0,750.8) scale(1.3,1)">5</text><path d="M676.5,758.3 L676.5,756.4 C679.5,756.4 681.5,755.5 682.1,753.9 L685.1,753.9 L685.1,771.5 L682.1,771.5 L682.1,758.3 Z"/><text transform="translate(690.4,771.5) scale(1.3,1)">4</text><path d="M1015.9,812.7 L1015.9,810.8 C1018.9,810.8 1020.9,809.9 1021.5,808.3 L1024.5,808.3 L1024.5,825.9 L1021.5,825.9 L1021.5,812.7 Z"/><text transform="translate(1029.8,825.9) scale(1.3,1)">3</text><path d="M1087.8,818.8 L1087.8,816.9 C1090.8,816.9 1092.8,816.0 1093.4,814.4 L1096.4,814.4 L1096.4,832.0 L1093.4,832.0 L1093.4,818.8 Z"/><path d="M1105.0,818.8 L1105.0,816.9 C1108.0,816.9 1110.0,816.0 1110.6,814.4 L1113.6,814.4 L1113.6,832.0 L1110.6,832.0 L1110.6,818.8 Z"/><path d="M1175.8,896.7 L1175.8,894.8 C1178.8,894.8 1180.8,893.9 1181.4,892.3 L1184.4,892.3 L1184.4,909.9 L1181.4,909.9 L1181.4,896.7 Z"/><text transform="translate(1189.7,909.9) scale(1.3,1)">2</text><text transform="translate(958.7,947.2) scale(1.3,1)">2</text><text transform="translate(975.9,947.2) scale(1.3,1)">0</text><text transform="translate(991.7,966.5) scale(1.3,1)">2</text><text transform="translate(1008.9,966.5) scale(1.3,1)">3</text><path d="M908.3,1013.7 L908.3,1011.8 C911.3,1011.8 913.3,1010.9 913.9,1009.3 L916.9,1009.3 L916.9,1026.9 L913.9,1026.9 L913.9,1013.7 Z"/><text transform="translate(922.2,1026.9) scale(1.3,1)">0</text><text transform="translate(951.3,1046.2) scale(1.3,1)">9</text><text transform="translate(993.5,1066.8) scale(1.3,1)">8</text><path d="M1073.4,1053.6 L1073.4,1051.7 C1076.4,1051.7 1078.4,1050.8 1079.0,1049.2 L1082.0,1049.2 L1082.0,1066.8 L1079.0,1066.8 L1079.0,1053.6 Z"/><text transform="translate(1087.3,1066.8) scale(1.3,1)">7</text><path d="M1124.3,1033.0 L1124.3,1031.1 C1127.3,1031.1 1129.3,1030.2 1129.9,1028.6 L1132.9,1028.6 L1132.9,1046.2 L1129.9,1046.2 L1129.9,1033.0 Z"/><text transform="translate(1138.2,1046.2) scale(1.3,1)">6</text><text transform="translate(570.3,1025.1) scale(1.3,1)">6</text><text transform="translate(600.5,1042.9) scale(1.3,1)">5</text><path d="M714.1,1208.3 L714.1,1206.4 C717.1,1206.4 719.1,1205.5 719.7,1203.9 L722.7,1203.9 L722.7,1221.5 L719.7,1221.5 L719.7,1208.3 Z"/><text transform="translate(834.0,1190.3) scale(1.3,1)">5</text><text transform="translate(865.7,1209.4) scale(1.3,1)">4</text><text transform="translate(913.4,1234.2) scale(1.3,1)">3</text><text transform="translate(623.6,1326.3) scale(1.3,1)">2</text><g font-size="22.5" stroke-width="0.3"><text transform="translate(118.0,1610.3) scale(1.29,1)">F</text><text transform="translate(135.0,1610.3) scale(1.29,1)">0</text><text transform="translate(150.0,1610.3) scale(1.29,1)">D</text><path d="M172.5,1598.4 L172.5,1596.6 C175.5,1596.6 176.8,1595.8 177.1,1594.4 L179.9,1594.4 L179.9,1610.3 L177.1,1610.3 L177.1,1598.4 Z"/><path d="M186.9,1598.4 L186.9,1596.6 C189.9,1596.6 191.2,1595.8 191.5,1594.4 L194.3,1594.4 L194.3,1610.3 L191.5,1610.3 L191.5,1598.4 Z"/><path d="M201.2,1598.4 L201.2,1596.6 C204.2,1596.6 205.5,1595.8 205.8,1594.4 L208.6,1594.4 L208.6,1610.3 L205.8,1610.3 L205.8,1598.4 Z"/><text transform="translate(216.5,1610.3) scale(1.29,1)">0</text><text transform="translate(232.7,1610.3) scale(1.29,1)">-</text><text transform="translate(240.8,1610.3) scale(1.29,1)">9</text><path d="M260.2,1598.4 L260.2,1596.6 C263.2,1596.6 264.5,1595.8 264.8,1594.4 L267.6,1594.4 L267.6,1610.3 L264.8,1610.3 L264.8,1598.4 Z"/><text transform="translate(271.8,1610.3) scale(1.29,1)">2</text><text transform="translate(287.5,1610.3) scale(1.29,1)">0</text></g><g transform="translate(193.5,1559) skewY(-29) scale(0.6,1)" stroke="#000" stroke-width="0.7" fill="#000"><text x="0" y="0" font-family="Liberation Sans" font-weight="bold" font-size="29" letter-spacing="2.5">FWD</text></g></g>
</svg></body></html>
